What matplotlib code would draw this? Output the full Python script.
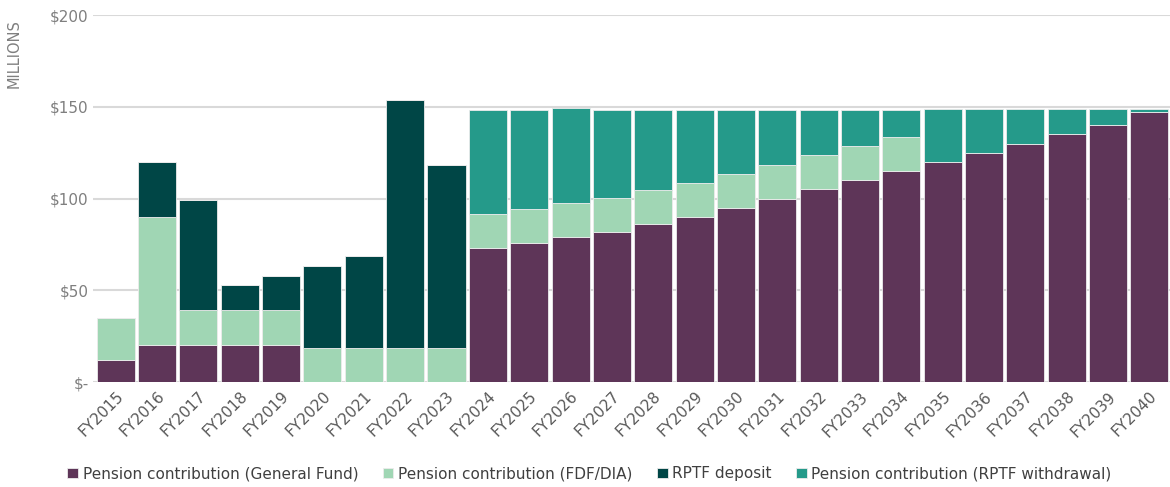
import numpy as np
import matplotlib.pyplot as plt

years = [f"FY{y}" for y in range(2015, 2041)]

general_fund = [12, 20, 20, 20, 20, 0, 0, 0, 0,
                73, 76, 79, 82, 86, 90, 95, 100, 105, 110, 115,
                120, 125, 130, 135, 140, 147]
fdf_dia = [23, 70, 19, 19, 19, 18.5, 18.5, 18.5, 18.5,
           18.5, 18.5, 18.5, 18.5, 18.5, 18.5, 18.5, 18.5, 18.5, 18.5, 18.5,
           0, 0, 0, 0, 0, 0]
rptf_deposit = [0, 30, 60, 14, 19, 45, 50, 135, 100,
                0, 0, 0, 0, 0, 0, 0, 0, 0, 0, 0,
                0, 0, 0, 0, 0, 0]
rptf_withdrawal = [0, 0, 0, 0, 0, 0, 0, 0, 0,
                   57, 54, 52, 48, 44, 40, 35, 30, 25, 20, 15,
                   29, 24, 19, 14, 9, 2]

series = [
    ("Pension contribution (General Fund)", general_fund, "#5E3558"),
    ("Pension contribution (FDF/DIA)", fdf_dia, "#A0D6B4"),
    ("RPTF deposit", rptf_deposit, "#004646"),
    ("Pension contribution (RPTF withdrawal)", rptf_withdrawal, "#259A8A"),
]

fig = plt.figure(figsize=(11.7, 4.87), dpi=100)
ax = fig.add_axes([0.0795, 0.2156, 0.9205, 0.7534])

x = np.arange(len(years))
bottom = np.zeros(len(years))
for label, vals, color in series:
    vals = np.array(vals, dtype=float)
    ax.bar(x, vals, bottom=bottom, width=0.92, color=color, label=label,
           edgecolor="#ececec", linewidth=0.6, zorder=3)
    bottom += vals

ax.set_ylim(0, 200)
ax.set_xlim(-0.55, len(years) - 0.5)
ax.set_yticks([0, 50, 100, 150, 200])
ax.set_yticklabels(["$-", "$50", "$100", "$150", "$200"])
ax.yaxis.grid(True, color="#d9d9d9", linewidth=1.5, zorder=0)
ax.set_axisbelow(True)
for s in ["top", "right", "left", "bottom"]:
    ax.spines[s].set_visible(False)
ax.tick_params(axis="y", length=0, labelsize=11, labelcolor="#7f7f7f", pad=3)
ax.tick_params(axis="x", length=0, labelsize=11, labelcolor="#595959", pad=5)
ax.set_xticks(x)
ax.set_xticklabels(years, rotation=45, ha="right", rotation_mode="anchor")

fig.text(0.012, 0.96, "MILLIONS", rotation=90, fontsize=10.5, color="#7f7f7f",
         ha="center", va="top")

ax.legend(loc="center", bbox_to_anchor=(0.461, -0.25), ncol=4, frameon=False,
          fontsize=11, handlelength=0.7, handleheight=0.7, handletextpad=0.3,
          columnspacing=1.6, labelcolor="#404040")

fig.savefig("out.png", dpi=100)
